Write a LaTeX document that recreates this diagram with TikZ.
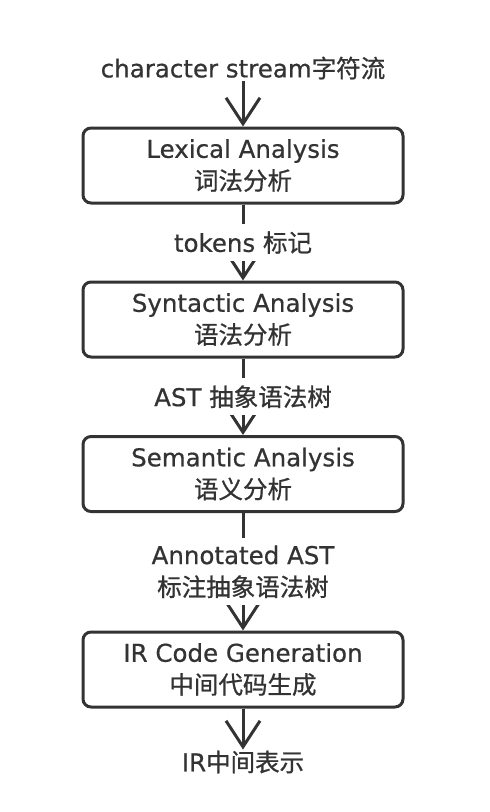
\documentclass[tikz,border=0pt]{standalone}
\usepackage{fontspec}
\setmainfont[FakeBold=0.6]{DejaVu Sans}
\newfontfamily\cjk[FakeBold=0.8]{Noto Sans CJK SC}
\usetikzlibrary{arrows.meta}
\definecolor{ink}{HTML}{333333}
\begin{document}
\begin{tikzpicture}[x=1pt,y=-1pt,
  txt/.style={text=ink, font=\fontsize{24.5}{32}\selectfont, align=center},
  stage/.style={txt, draw=ink, line width=3pt, rounded corners=8pt,
    minimum width=320pt, minimum height=75pt, inner sep=0pt},
  lbl/.style={txt, fill=white, inner xsep=3pt, inner ysep=7pt},
  term/.style={txt, inner sep=1pt},
  flow/.style={draw=ink, line width=3pt, -{Straight Barb[length=26pt,width=34pt]}}
]
\useasboundingbox (0,0) rectangle (490,812);
\node[term]  (src) at (243,68)    {character stream{\cjk 字符流}};
\node[stage] (lex) at (243,165.5) {Lexical Analysis\\{\cjk 词法分析}};
\node[stage] (syn) at (243,319.5) {Syntactic Analysis\\{\cjk 语法分析}};
\node[stage] (sem) at (243,474)   {Semantic Analysis\\{\cjk 语义分析}};
\node[stage] (irg) at (243,669.5) {IR Code Generation\\{\cjk 中间代码生成}};
\node[term]  (out) at (243,762)   {IR{\cjk 中间表示}};
\draw[flow] (src) -- (lex);
\draw[flow] (lex) -- node[lbl] {tokens {\cjk 标记}} (syn);
\draw[flow] (syn) -- node[lbl] {AST {\cjk 抽象语法树}} (sem);
\draw[flow] (sem) -- node[lbl] {Annotated AST\\{\cjk 标注抽象语法树}} (irg);
\draw[flow] (irg) -- (out);
\end{tikzpicture}
\end{document}
